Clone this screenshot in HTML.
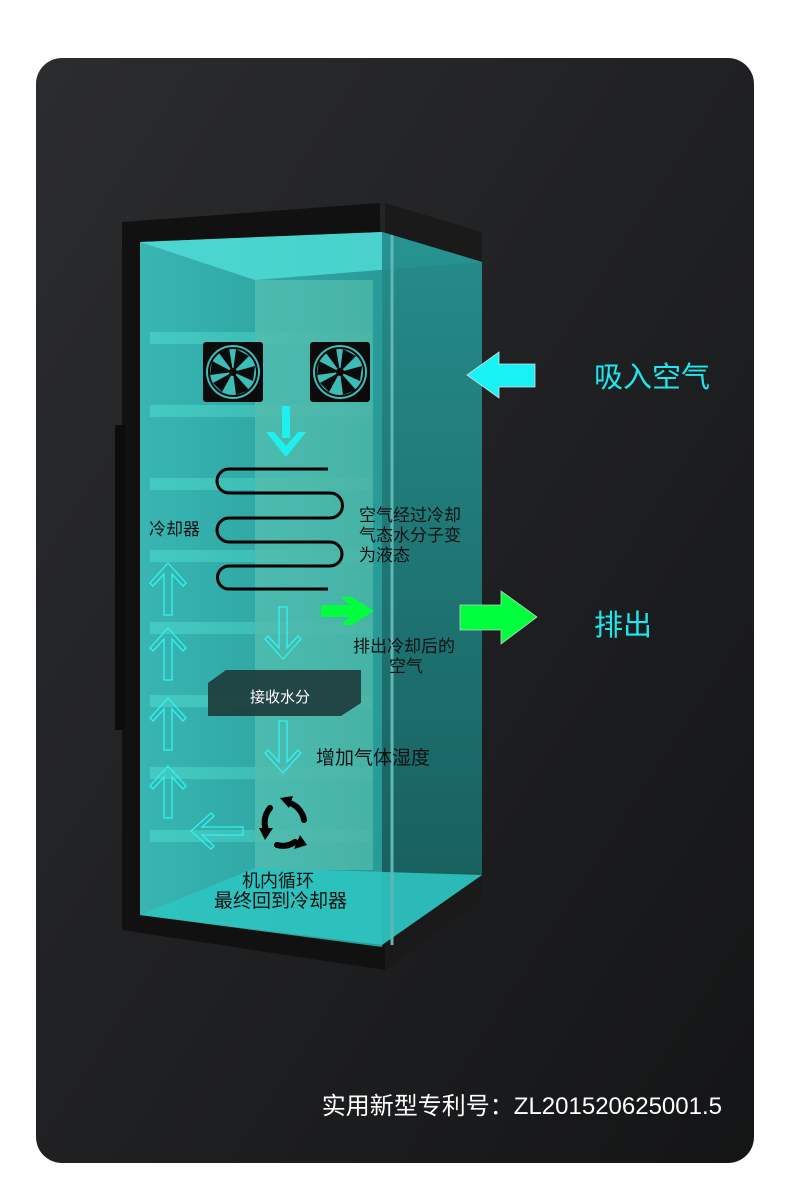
<!DOCTYPE html>
<html><head><meta charset="utf-8"><style>
html,body{margin:0;padding:0;background:#fff;}
svg{display:block;}
text{font-family:"Liberation Sans","Noto Sans CJK SC",sans-serif;}
</style></head><body>
<svg width="790" height="1195" viewBox="0 0 790 1195" xmlns="http://www.w3.org/2000/svg">
<defs>
<linearGradient id="bg" x1="0" y1="0" x2="1" y2="1">
<stop offset="0" stop-color="#2b2c2e"/><stop offset="1" stop-color="#141516"/></linearGradient>
<linearGradient id="front" x1="0" y1="0" x2="1" y2="0">
<stop offset="0" stop-color="#3fd3cf"/><stop offset="1" stop-color="#2cb3b0"/></linearGradient>
<linearGradient id="side" x1="0" y1="0" x2="0" y2="1">
<stop offset="0" stop-color="#259290"/><stop offset="1" stop-color="#17605f"/></linearGradient>
<path id="ha" d="M0,0 L18,20 L15,23 L4,11 V52 H-4 V11 L-15,23 L-18,20 Z" fill="none" stroke="#33f2f2" stroke-width="1.3"/>
</defs>
<rect x="36" y="58" width="718" height="1105" rx="26" fill="url(#bg)"/>
<polygon points="122,222 380,203 385,970 122,930" fill="#111"/>
<polygon points="385,203 482,232 482,900 385,970" fill="#1a1a1a"/>
<rect x="115" y="425" width="10" height="305" fill="#0c0c0c"/>
<rect x="255" y="280" width="118" height="590" fill="#4aa595"/>
<g fill="#7ec4a0" opacity="0.8">
<rect x="150" y="332" width="222" height="12"/><rect x="150" y="405" width="222" height="12"/>
<rect x="150" y="478" width="222" height="12"/><rect x="150" y="550" width="222" height="12"/>
<rect x="150" y="622" width="222" height="12"/><rect x="150" y="695" width="222" height="12"/>
<rect x="150" y="767" width="222" height="12"/><rect x="150" y="830" width="222" height="12"/>
</g>
<polygon points="140,242 382,232 382,947 140,915" fill="url(#front)" opacity="0.85"/>
<rect x="255" y="280" width="118" height="590" fill="#6fb59c" opacity="0.35"/>
<polygon points="140,242 382,232 482,262 255,280" fill="#4fdcd6" opacity="0.85"/>
<polygon points="382,232 482,262 482,875 382,945" fill="url(#side)" opacity="0.95"/>
<polygon points="140,915 255,868 482,875 382,945" fill="#2ec4c0" opacity="0.9"/>
<line x1="392" y1="235" x2="392" y2="945" stroke="#5fb8b4" stroke-width="3"/>
<g id="fan">
<rect x="203" y="342" width="60" height="60" rx="3" fill="#0b0b0b"/>
<circle cx="233" cy="372" r="27" fill="#3cbdb8"/>
<circle cx="233" cy="372" r="24" fill="none" stroke="#0b0b0b" stroke-width="2"/>
<g fill="#0b0b0b">
<path d="M233,372 L236,349 L249,356 Z"/><path d="M233,372 L255,366 L253,381 Z"/>
<path d="M233,372 L249,390 L236,395 Z"/><path d="M233,372 L222,392 L213,383 Z"/>
<path d="M233,372 L210,375 L212,361 Z"/><path d="M233,372 L219,353 L229,348 Z"/>
</g>
<circle cx="233" cy="372" r="4" fill="#0b0b0b"/>
</g>
<use href="#fan" x="107"/>
<rect x="282" y="406" width="8" height="32" fill="#1ef0f0"/>
<path d="M266,432 L286,457 L306,432 L298,432 L286,446 L274,432 Z" fill="#1ef0f0"/>
<path d="M328,469 H229 A12,12 0 0 0 229,493 H330 A12.5,12.5 0 0 1 330,518 H229 A12,12 0 0 0 229,542 H330 A12,12 0 0 1 330,566 H229 A11.5,11.5 0 0 0 229,589 H328" fill="none" stroke="#000" stroke-width="3"/>
<use href="#ha" transform="translate(168,563)"/>
<use href="#ha" transform="translate(168,628)"/>
<use href="#ha" transform="translate(168,698)"/>
<use href="#ha" transform="translate(168,766)"/>
<use href="#ha" transform="translate(283,659) rotate(180)"/>
<use href="#ha" transform="translate(283,773) rotate(180)"/>
<use href="#ha" transform="translate(191,831) rotate(-90)"/>
<path d="M321,605 H350 L340,597 H352 L374,611 L352,625 H340 L350,617 H321 Z" fill="#00ff3c"/>
<path d="M460,605 H501 V591 L537,617 L501,644 V630 H460 Z" fill="#00ff3c" stroke="#ccc" stroke-width="0.8"/>
<path d="M535,364 H499 V352 L467,375 L499,398 V387 H535 Z" fill="#19f2f5" stroke="#ddd" stroke-width="0.8"/>
<polygon points="208,683 226,670 361,670 361,703 341,716 208,716" fill="#1d3a3a" opacity="0.9"/>
<text x="280" y="702" font-size="15" fill="#fff" text-anchor="middle">接收水分</text>
<g fill="none" stroke="#000" stroke-width="6" stroke-linecap="round">
<path d="M270,808 A22,22 0 0 0 266,830"/>
<path d="M290,803 A22,22 0 0 1 304,820"/>
<path d="M295,842 A22,22 0 0 1 277,845"/>
</g>
<g fill="#000">
<path d="M259,828 L273,828 L265,840 Z"/>
<path d="M280,798 L293,796 L289,808 Z"/>
<path d="M300,835 L307,845 L294,849 Z"/>
</g>
<g font-size="17" fill="#111">
<text x="149" y="535">冷却器</text>
<text x="359" y="521">空气经过冷却</text>
<text x="359" y="541">气态水分子变</text>
<text x="359" y="561">为液态</text>
<text x="353" y="652">排出冷却后的</text>
<text x="389" y="672">空气</text>
<text x="316" y="764" font-size="19">增加气体湿度</text>
<text x="242" y="887" font-size="18">机内循环</text>
<text x="214" y="907" font-size="19">最终回到冷却器</text>
</g>
<text x="594" y="387" font-size="29" fill="#1de8ee">吸入空气</text>
<text x="594" y="635" font-size="29" fill="#1de8ee">排出</text>
<text x="722" y="1114" font-size="24" fill="#fff" text-anchor="end">实用新型专利号：ZL201520625001.5</text>
</svg>
</body></html>
